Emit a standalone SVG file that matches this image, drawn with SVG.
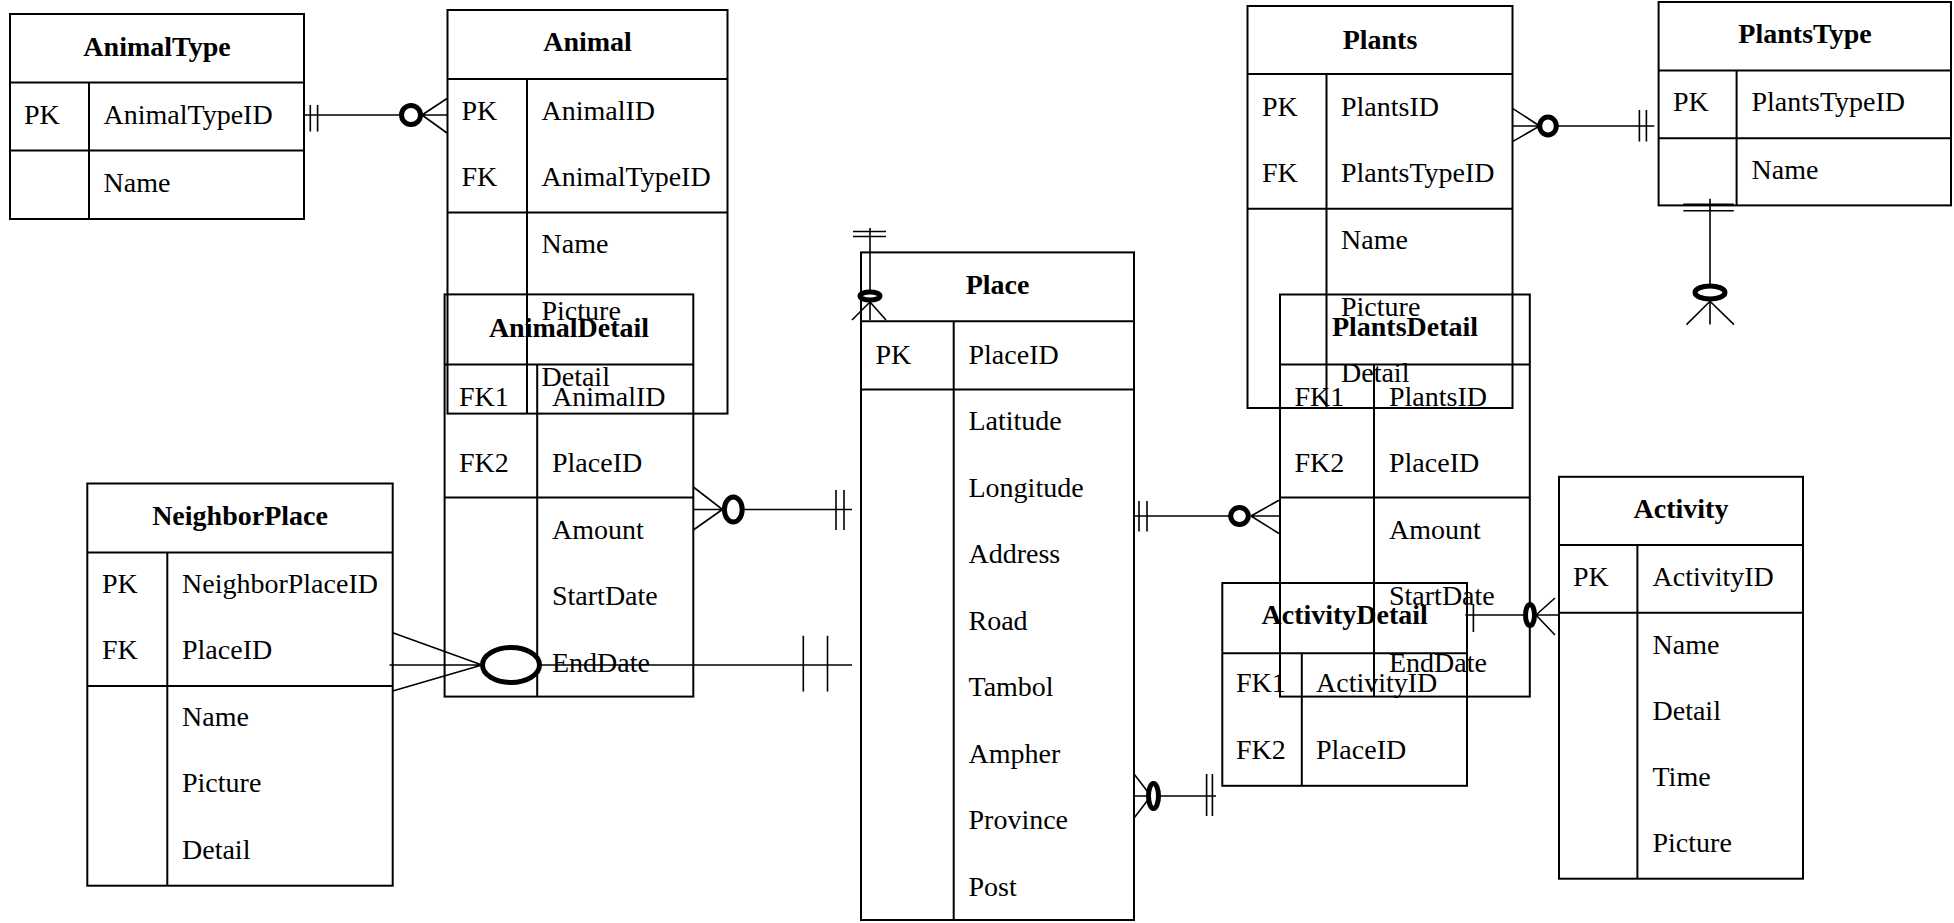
<svg xmlns="http://www.w3.org/2000/svg" width="1954" height="923" viewBox="0 0 1954 923">
<style>
.b{fill:none;stroke:#000;stroke-width:2}
.t{font-family:"Liberation Serif","Times New Roman",serif;font-size:28px;fill:#000}
.h{font-family:"Liberation Serif","Times New Roman",serif;font-size:28px;font-weight:bold;text-anchor:middle;fill:#000}
.c{fill:none;stroke:#000;stroke-width:1.6}
.o{fill:#fff;stroke:#000;stroke-width:5}
</style>
<rect width="1954" height="923" fill="#fff"/>

<g id="AnimalType">
<rect class="b" x="10" y="14" width="294" height="205"/>
<path class="b" d="M10 82.6H304M10 150.5H304M89 82.6V219"/>
<text class="h" x="157" y="56">AnimalType</text>
<text class="t" x="24" y="124">PK</text><text class="t" x="103.5" y="124">AnimalTypeID</text>
<text class="t" x="103.5" y="192">Name</text>
</g>

<g id="Animal">
<rect class="b" x="447.5" y="10" width="280" height="403.6"/>
<path class="b" d="M447.5 78.9H727.5M447.5 212.5H727.5M527 78.9V413.6"/>
<text class="h" x="587.5" y="51">Animal</text>
<text class="t" x="461.5" y="119.6">PK</text><text class="t" x="541.5" y="119.6">AnimalID</text>
<text class="t" x="461.5" y="186">FK</text><text class="t" x="541.5" y="186">AnimalTypeID</text>
<text class="t" x="541.5" y="253">Name</text>
<text class="t" x="541.5" y="319.5">Picture</text>
<text class="t" x="541.5" y="386">Detail</text>
</g>

<g id="AnimalDetail">
<rect class="b" x="444.6" y="294.4" width="248.7" height="402.2"/>
<path class="b" d="M444.6 364.6H693.3M444.6 497.5H693.3M537.2 364.6V696.6"/>
<text class="h" x="569" y="337">AnimalDetail</text>
<text class="t" x="459" y="405.5">FK1</text><text class="t" x="552" y="405.5">AnimalID</text>
<text class="t" x="459" y="472">FK2</text><text class="t" x="552" y="472">PlaceID</text>
<text class="t" x="552" y="538.6">Amount</text>
<text class="t" x="552" y="605.3">StartDate</text>
<text class="t" x="552" y="672">EndDate</text>
</g>

<g id="Place">
<rect class="b" x="861" y="252.4" width="273" height="667.6"/>
<path class="b" d="M861 321.3H1134M861 389.6H1134M953.7 321.3V920"/>
<text class="h" x="997.5" y="294">Place</text>
<text class="t" x="875.5" y="363.5">PK</text><text class="t" x="968.5" y="363.5">PlaceID</text>
<text class="t" x="968.5" y="430">Latitude</text>
<text class="t" x="968.5" y="496.5">Longitude</text>
<text class="t" x="968.5" y="563">Address</text>
<text class="t" x="968.5" y="629.5">Road</text>
<text class="t" x="968.5" y="696">Tambol</text>
<text class="t" x="968.5" y="762.5">Ampher</text>
<text class="t" x="968.5" y="829">Province</text>
<text class="t" x="968.5" y="895.5">Post</text>
</g>

<g id="Plants">
<rect class="b" x="1247.5" y="6" width="265" height="402"/>
<path class="b" d="M1247.5 74H1512.5M1247.5 208.7H1512.5M1326.5 74V408"/>
<text class="h" x="1380" y="48.5">Plants</text>
<text class="t" x="1262" y="115.6">PK</text><text class="t" x="1341" y="115.6">PlantsID</text>
<text class="t" x="1262" y="182">FK</text><text class="t" x="1341" y="182">PlantsTypeID</text>
<text class="t" x="1341" y="249">Name</text>
<text class="t" x="1341" y="315.5">Picture</text>
<text class="t" x="1341" y="382">Detail</text>
</g>

<g id="PlantsType">
<rect class="b" x="1658.6" y="2" width="292.4" height="203.4"/>
<path class="b" d="M1658.6 70.6H1951M1658.6 138.2H1951M1736.6 70.6V205.4"/>
<text class="h" x="1805" y="42.6">PlantsType</text>
<text class="t" x="1673" y="111">PK</text><text class="t" x="1751.5" y="111">PlantsTypeID</text>
<text class="t" x="1751.5" y="179">Name</text>
</g>

<g id="PlantsDetail">
<rect class="b" x="1280" y="294.5" width="249.8" height="402.1"/>
<path class="b" d="M1280 364.6H1529.8M1280 497.5H1529.8M1374 364.6V696.6"/>
<text class="h" x="1405" y="336">PlantsDetail</text>
<text class="t" x="1294.5" y="405.5">FK1</text><text class="t" x="1389" y="405.5">PlantsID</text>
<text class="t" x="1294.5" y="472">FK2</text><text class="t" x="1389" y="472">PlaceID</text>
<text class="t" x="1389" y="538.6">Amount</text>
<text class="t" x="1389" y="605.3">StartDate</text>
<text class="t" x="1389" y="672">EndDate</text>
</g>

<g id="NeighborPlace">
<rect class="b" x="87.3" y="483.5" width="305.4" height="402.2"/>
<path class="b" d="M87.3 552.4H392.7M87.3 686H392.7M167.3 552.4V885.7"/>
<text class="h" x="240" y="524.5">NeighborPlace</text>
<text class="t" x="102" y="592.5">PK</text><text class="t" x="182" y="592.5">NeighborPlaceID</text>
<text class="t" x="102" y="658.5">FK</text><text class="t" x="182" y="658.5">PlaceID</text>
<text class="t" x="182" y="726">Name</text>
<text class="t" x="182" y="792">Picture</text>
<text class="t" x="182" y="858.5">Detail</text>
</g>

<g id="Activity">
<rect class="b" x="1559" y="476.8" width="244" height="401.9"/>
<path class="b" d="M1559 545H1803M1559 612.7H1803M1637.4 545V878.7"/>
<text class="h" x="1681" y="518">Activity</text>
<text class="t" x="1573" y="585.7">PK</text><text class="t" x="1652.5" y="585.7">ActivityID</text>
<text class="t" x="1652.5" y="654">Name</text>
<text class="t" x="1652.5" y="720">Detail</text>
<text class="t" x="1652.5" y="785.5">Time</text>
<text class="t" x="1652.5" y="851.5">Picture</text>
</g>

<g id="ActivityDetail">
<rect class="b" x="1222.3" y="583" width="244.7" height="202.8"/>
<path class="b" d="M1222.3 653.3H1467M1301.8 653.3V785.8"/>
<text class="h" x="1344.7" y="624.4">ActivityDetail</text>
<text class="t" x="1236" y="692.3">FK1</text><text class="t" x="1316" y="692.3">ActivityID</text>
<text class="t" x="1236" y="759">FK2</text><text class="t" x="1316" y="759">PlaceID</text>
</g>

<g id="connectors">
<!-- AnimalType - Animal -->
<path class="c" d="M304 115H402M310.3 105V131.6M317.6 105V131.6M422 115L447 98.5M422 115H447M422 115L447 133"/>
<ellipse class="o" cx="411" cy="115" rx="9.5" ry="9.5"/>
<!-- Plants - PlantsType -->
<path class="c" d="M1556 126H1654.3M1639.4 110V141.5M1646.4 110V141.5M1539.6 126L1512.5 108.3M1539.6 126H1512.5M1539.6 126L1512.5 141.6"/>
<ellipse class="o" cx="1548" cy="126" rx="8.3" ry="9"/>
<!-- PlantsType down -->
<path class="c" d="M1710 198.8V324.6M1683.4 204.4H1733.8M1683.4 210.8H1733.8M1710 301.3L1686.5 324.6M1710 301.3L1734 324.6"/>
<ellipse class="o" cx="1710" cy="292.5" rx="15" ry="6.5"/>
<!-- Place top -->
<path class="c" d="M870 228V320M853 231.5H886M853 236.5H886M870 302L852 320M870 302L886 320"/>
<ellipse class="o" cx="870" cy="296" rx="10" ry="4" stroke-width="4"/>
<!-- AnimalDetail - Place -->
<path class="c" d="M744 509.5H852M836 490V530M844 490V530M722.4 509.5L693.3 487M722.4 509.5H693.3M722.4 509.5L693.3 530"/>
<ellipse class="o" cx="733.3" cy="509.5" rx="8.9" ry="12.5"/>
<!-- Place - PlantsDetail -->
<path class="c" d="M1134 516H1232M1139 501V531.6M1147 501V531.6M1251 516L1279 500.2M1251 516H1279M1251 516L1279 533.5"/>
<ellipse class="o" cx="1239.5" cy="516" rx="8.8" ry="8.5"/>
<!-- Place - ActivityDetail -->
<path class="c" d="M1151 796H1216M1206.6 774V816M1212.4 774V816M1151 796L1134 774M1151 796H1134M1151 796L1134 818"/>
<ellipse class="o" cx="1153.5" cy="796" rx="5" ry="12.6"/>
<!-- ActivityDetail - Activity -->
<path class="c" d="M1465.3 615H1526M1467 604V632M1473.4 604V632M1536 615L1555 598M1536 615H1559M1536 615L1555 635"/>
<ellipse class="o" cx="1530" cy="615" rx="4.5" ry="10.5"/>
<!-- NeighborPlace - Place -->
<path class="c" d="M389.5 665H852M803.3 635.7V691.5M827.5 635.7V691.5M482 665L392.7 632.7M482 665L392.7 691"/>
<ellipse class="o" cx="511" cy="665" rx="28.5" ry="17.5"/>
</g>
</svg>
